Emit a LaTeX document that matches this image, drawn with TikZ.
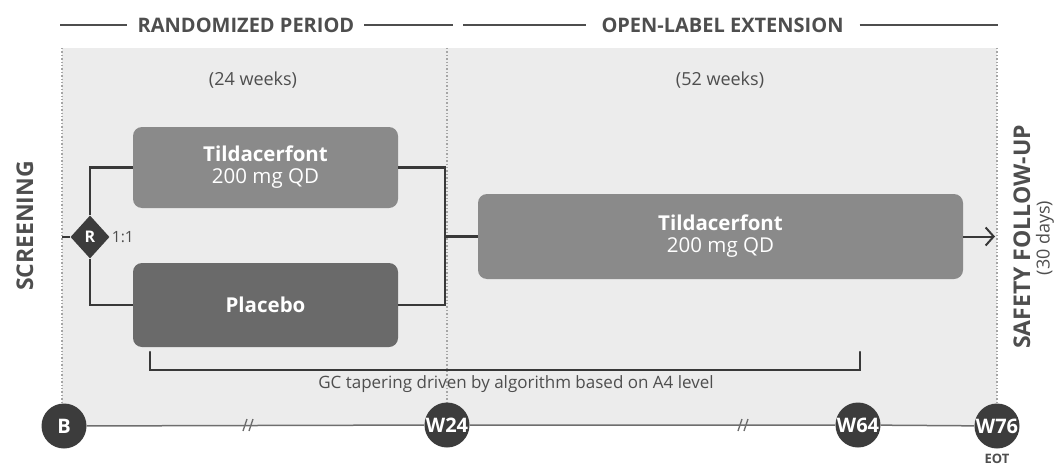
\documentclass[tikz,border=0pt]{standalone}
\usepackage{fontspec}
\setmainfont{Open Sans}
\usetikzlibrary{shapes.geometric,arrows.meta}
\definecolor{bgc}{HTML}{ECECEC}
\definecolor{boxl}{HTML}{8A8A8A}
\definecolor{boxd}{HTML}{6A6A6A}
\definecolor{dk}{HTML}{3C3C3C}
\definecolor{txt}{HTML}{4E4E4E}
\definecolor{ln}{HTML}{383838}
\definecolor{dotc}{HTML}{A5A5A5}
\definecolor{tl}{HTML}{6E6E6E}
\begin{document}
\begin{tikzpicture}[x=1pt,y=-1pt,
  hdr/.style={font=\bfseries\fontsize{20}{24}\selectfont, text=txt, inner sep=0pt},
  hline/.style={draw=txt, line width=2.4pt},
  arm/.style={rounded corners=9pt, text=white, align=center, inner sep=0pt,
    font=\fontsize{20.5}{22}\selectfont},
  conn/.style={draw=ln, line width=2.4pt},
  dotl/.style={draw=dotc, line width=1.4pt, dotted},
  visit/.style={circle, fill=dk, text=white, minimum size=45pt, inner sep=0pt,
    font=\bfseries\fontsize{20}{20}\selectfont},
  side/.style={rotate=90, text=txt, inner sep=0pt},
  note/.style={text=txt, inner sep=0pt}]
\useasboundingbox (0,0) rectangle (1064,468);
% background
\fill[bgc] (62,48) rectangle (997,425);
% dotted separators
\draw[dotl] (62,48) -- (62,404);
\draw[dotl] (447,48) -- (447,402);
\draw[dotl] (997,48) -- (997,404);
% headers
\node[hdr] (hR) at (246,25) {RANDOMIZED PERIOD};
\node[hdr] (hO) at (722.5,25) {OPEN-LABEL EXTENSION};
\coordinate (l1a) at (60,25);
\coordinate (l1b) at (453,25);
\coordinate (l2a) at (463,25);
\coordinate (l2b) at (998,25);
\draw[hline] (l1a) -- ([xshift=-11pt]hR.west);
\draw[hline] ([xshift=10pt]hR.east) -- (l1b);
\draw[hline] (l2a) -- ([xshift=-15pt]hO.west);
\draw[hline] ([xshift=16pt]hO.east) -- (l2b);
% durations
\node[note, font=\fontsize{18}{20}\selectfont] (d24) at (253,80) {(24 weeks)};
\node[note, font=\fontsize{18}{20}\selectfont] (d52) at (720,80) {(52 weeks)};
% side labels
\node[side, font=\bfseries\fontsize{23}{24}\selectfont] (scr) at (25,226) {SCREENING};
\node[side, font=\bfseries\fontsize{23}{24}\selectfont] (sfu) at (1022,237) {SAFETY FOLLOW-UP};
\node[side, font=\fontsize{18}{18}\selectfont] (d30) at (1045,238) {(30 days)};
% arms
\node[arm, fill=boxl, minimum width=265pt, minimum height=81pt] (t1) at (265.5,167.5)
  {\textbf{Tildacerfont}\\200 mg QD};
\node[arm, fill=boxd, minimum width=265pt, minimum height=84pt] (pl) at (265.5,305)
  {\textbf{Placebo}};
\node[arm, fill=boxl, minimum width=485pt, minimum height=85pt] (t3) at (720.5,236.5)
  {\textbf{Tildacerfont}\\200 mg QD};
% randomization
\node[diamond, fill=dk, text=white, minimum width=39pt, minimum height=43pt, inner sep=0pt,
  font=\bfseries\fontsize{16}{16}\selectfont] (R) at (90,237) {R};
\node[note, font=\fontsize{15.5}{16}\selectfont, anchor=west] (rat) at ([xshift=2pt]R.east) {1:1};
\coordinate (scrout) at (62,237);
\coordinate (jt) at (445,167.5);
\coordinate (jb) at (445,305);
\coordinate (j) at (445,236.5);
\coordinate (fu) at (995,236.5);
\draw[conn] (scrout) -- (R.west);
\draw[conn] (R.north) |- (t1.west);
\draw[conn] (R.south) |- (pl.west);
\draw[conn] (t1.east) -- (jt) -- (jb) -- (pl.east);
\draw[conn] (j) -- (t3.west);
\draw[draw=ln, line width=2pt, -{Straight Barb[length=8pt,width=18pt]}] (t3.east) -- (fu);
% bracket
\coordinate (ba) at (150,352);
\coordinate (bb) at (860,352);
\draw[conn, line cap=round] (ba) |- (bb |- 0,370) -- (bb);
\node[note, font=\fontsize{17}{18}\selectfont] (gc) at (516,384)
  {GC tapering driven by algorithm based on A4 level};
% timeline
\node[visit] (vB) at (64,426) {B};
\node[visit] (v24) at (447,425) {W24};
\node[visit] (v64) at (858,425) {W64};
\node[visit] (v76) at (997,426) {W76};
\draw[draw=tl, line width=1.5pt] (vB) -- (v24) -- (v64) -- (v76);
\foreach \bx in {248,743}{
  \draw[draw=tl, line width=1.3pt] (\bx-5,431) -- (\bx-1,419);
  \draw[draw=tl, line width=1.3pt] (\bx+1,431) -- (\bx+5,419);
}
\node[note, font=\bfseries\fontsize{13}{14}\selectfont] (eot) at (997,459) {EOT};
\end{tikzpicture}
\end{document}
